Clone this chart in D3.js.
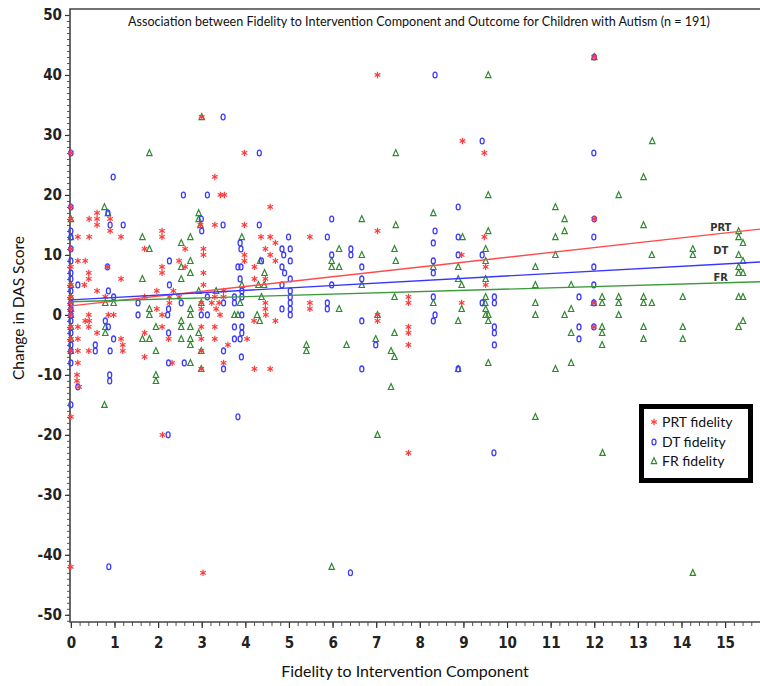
<!DOCTYPE html>
<html>
<head>
<meta charset="utf-8">
<style>
  body { margin: 0; background: #fff; }
  svg { display: block; }
</style>
</head>
<body>
<div id="chart"></div>
<script src="https://d3js.org/d3.v7.min.js"></script>
<script>
  // fidelity (x) / change in DAS score (y)
  const prtPoints = [
    [12,43],[3,33],[0,27],[3.98,27],[3.3,23],[3.43,20],[3.52,20],[7.03,40],[8.98,29],[9.48,27],
    [0,18],[4.57,18],[0.6,17],[0.6,16],[0.6,15],[0.42,16],[0.9,16],[0.9,14],[0,16],[0.16,13],
    [0.42,13],[1.15,13],[2.09,14],[2.09,13],[2.97,15],[3.3,15],[3.98,15],[4.36,13],[4.57,13],
    [7.03,14],[5.48,13],[9.48,13],[12,16],
    [4.69,12],[1.69,11],[2.62,11],[3.04,11],[4.46,11],[3.04,10],[4.57,10],[3.98,10],[0.16,9],
    [0.33,9],[0.84,8],[2.48,9],[3.98,9],[4.69,9],[0,8],[2.09,8],[2.62,8],[4.21,8],[0.41,7],
    [2.09,7],[3.04,7],[0.41,6],[1.15,6],[4.21,6],[4.46,6],[0.31,5],[3.04,5],[0.6,4],[1.97,4],
    [2.35,4],[3.5,4],[0.79,3],[1.69,3],[2.26,3],[2.48,3],[3.3,3],[3.5,3],[2.26,2],[2.99,2],
    [3.23,2],[3.4,2],[4.46,2],[1.97,1],[2.99,1],[3.33,1],[4.46,1],[0.41,0],[0.86,0],[0.98,0],
    [2.09,0],[3.42,0],[4.47,0],[0.33,-1],[0.42,-1],[4.2,-1],[4.69,-1],[0.16,-2],[0.41,-2],
    [2.09,-2],[2.99,-2],[3.3,-2],[0.6,-3],[1.69,-3],[0.16,-4],[1.15,-4],[2.24,-4],[2.99,-4],
    [3.3,-4],[4.04,-4],[1.19,-5],[3.6,-5],[0.16,-6],[0.41,-6],[1.19,-6],[2.99,-6],[1.69,-7],
    [0.16,-8],[2.32,-8],[3.5,-8],[2.99,-9],[4.21,-9],[4.57,-9],[0.14,-10],[0.14,-11],[0.19,-12],
    [0,-17],[0,11],[0,5],[0,3],[0,2],[0,1],[0,0],[0,-2],[0,-4],[0,-6],
    [8.96,10],[9.51,8],[9.51,5],[7.74,3],[5.48,2],[5.48,1],[7.74,2],[8.96,2],[7.03,0],[7.03,-1],
    [7.74,-2],[7.74,-3],[7.74,-5],[11.99,2],[11.99,-2],
    [2.1,-20],[0,-42],[3.03,-43],[7.74,-23]
  ];
  const dtPoints = [
    [12,43],[3.49,33],[0,27],[4.32,27],[0.97,23],[2.58,20],[3.13,20],[8.35,40],[9.43,29],[11.99,27],
    [0,18],[0.85,17],[0.9,15],[1.2,15],[2.99,16],[3,14],[3.49,15],[4.32,15],[4.99,13],[0,14],
    [8.88,18],[5.98,16],[8.35,14],[5.88,13],[8.88,13],[12,16],[11.99,13],
    [3.88,12],[0,11],[3.9,11],[4.84,11],[5.03,11],[4.88,10],[0.84,8],[2.26,9],[4.37,9],[5.03,9],
    [3.83,8],[3.9,8],[4.84,8],[4.9,7],[0,6],[3.88,6],[5.03,6],[0.16,5],[2.26,5],[4.84,5],[0.86,4],
    [3.92,4],[5.03,4],[0.98,3],[3.13,3],[3.75,3],[3.92,3],[5.03,3],[1.54,2],[2.53,2],[3.5,2],
    [3.75,2],[5.03,2],[2.24,1],[4.84,1],[5.03,1],[1.54,0],[2.22,0],[2.99,0],[3.13,0],[3.92,0],
    [5.03,0],[0,-1],[0.79,-1],[0.86,-2],[3.75,-2],[3.92,-2],[2.24,-3],[3.92,-3],[0.98,-4],
    [3.75,-4],[3.88,-4],[0.56,-5],[0.56,-6],[0.9,-6],[3.5,-6],[3.91,-7],[0,-8],[2.24,-8],[2.6,-8],
    [3.5,-9],[0.89,-10],[0.89,-11],[0.16,-12],[0,-15],[3.83,-17],
    [0,13],[0,9],[0,7],[0,4],[0,2],[0,1],[0,0],[0,-3],[0,-5],[0,-6],
    [8.31,12],[6.42,11],[6.42,10],[5.98,10],[6.67,8],[8.31,9],[8.88,10],[9.43,10],[6.67,6],
    [8.31,7],[5.98,5],[8.31,3],[9.71,3],[5.88,2],[5.88,1],[9.43,2],[9.71,2],[8.35,0],[6.67,-1],
    [8.31,-1],[9.71,-2],[9.71,-3],[6.99,-5],[9.71,-5],[6.67,-9],[8.88,-9],
    [11.99,8],[11.99,5],[11.65,3],[11.99,2],[11.65,-2],[11.65,-4],[11.99,-2],
    [2.23,-20],[0.87,-42],[6.41,-43],[9.7,-23]
  ];
  const frPoints = [
    [12,43],[3,33],[1.8,27],[9.57,40],[7.45,27],[13.33,29],[13.13,23],[9.57,20],[12.56,20],
    [0.77,18],[0.85,17],[2.93,17],[2.93,16],[2.97,15],[0,16],[1.64,13],[2.74,13],[3.92,13],[0,13],
    [8.31,17],[6.67,16],[7.45,15],[9.57,14],[8.98,13],
    [11.11,18],[11.32,16],[13.13,15],[11.32,14],[11.11,13],[15.31,14],
    [2.53,12],[1.8,11],[2.74,9],[4.34,9],[2.53,8],[2.74,7],[4.44,7],[1.64,6],[2.53,6],[3.92,5],
    [4.3,5],[4.43,5],[2.93,4],[3.33,4],[4.37,3],[0.79,2],[0.98,2],[2.99,2],[3.88,2],[1.8,1],
    [2.74,1],[1.8,0],[2.74,0],[3.75,0],[3.83,0],[4.27,0],[2.53,-1],[4.33,-1],[0.79,-2],[1.95,-2],
    [2.53,-2],[2.74,-2],[0.79,-3],[2.93,-3],[1.64,-4],[1.8,-4],[2.53,-4],[2.74,-4],[2.74,-5],
    [1.95,-6],[2.99,-6],[2.74,-8],[2.99,-9],[1.95,-10],[1.95,-11],[0.77,-15],
    [0,5],[0,3],[0,2],[0,1],[0,0],[0,-2],[0,-4],[0,-6],
    [6.15,11],[6.67,10],[7.42,11],[9.51,11],[5.98,9],[5.98,8],[6.15,8],[7.45,9],[9.51,9],[8.31,8],
    [8.88,8],[8.88,6],[9.51,6],[6.67,5],[8.96,5],[7.42,3],[9.51,3],[9.5,2],[6.15,1],[8.31,2],
    [8.96,1],[9.51,1],[7.03,0],[8.88,-1],[9.51,0],[9.57,0],[9.57,-1],[7.42,-3],[6.99,-4],
    [5.4,-5],[5.4,-6],[6.32,-5],[7.34,-6],[7.42,-7],[9.57,-8],[8.88,-9],[7.34,-12],
    [15.41,12],[14.26,11],[14.26,10],[11.11,10],[13.32,10],[15.31,10],[15.41,9],[10.65,8],
    [15.31,8],[15.31,7],[15.41,7],[10.65,5],[11.47,5],[12.18,3],[12.18,2],[12.56,3],[12.56,2],
    [13.13,3],[13.13,2],[13.32,2],[14.03,3],[15.31,3],[15.41,3],[11.99,2],[10.65,2],[10.65,0],
    [11.47,1],[11.32,0],[12.56,0],[12.18,-2],[12.18,-3],[12.18,-5],[11.47,-3],[13.13,-2],
    [13.13,-4],[14.03,-2],[14.03,-4],[15.31,-2],[15.41,-1],[11.47,-8],[11.11,-9],[10.65,-17],
    [15.31,13],
    [7.03,-20],[5.98,-42],[12.19,-23],[14.26,-43]
  ];

  // fitted regression lines
  const fitNames = ["PRT", "DT", "FR"];
  const fitIntercepts = [1.5, 2.5, 2.2];
  const fitSlopes = [0.81, 0.4, 0.21];

  const xTicks = d3.range(0, 16);
  const yTicks = d3.range(-50, 51, 10);

  const title = "Association between Fidelity to Intervention Component and Outcome for Children with Autism (n = 191)";
  const legendLabels = ["PRT fidelity", "DT fidelity", "FR fidelity"];

  const colors = ["#ff3c3c", "#3c3cff", "#2f8a2f"];
  const lineColors = ["#ff4b4b", "#3636ff", "#3b9a3b"];

  const width = 760, height = 686;
  const plotLeft = 70, plotRight = 760, plotTop = 9, plotBottom = 622;

  const x = d3.scaleLinear().domain([-0.02, 15.8]).range([plotLeft, plotRight]);
  const y = d3.scaleLinear().domain([-51.2, 51]).range([plotBottom, plotTop]);

  const svg = d3
    .select("#chart")
    .append("svg")
    .attr("width", width)
    .attr("height", height);

  const tickFont = "'Liberation Sans Narrow', 'DejaVu Sans Condensed', 'Arial Narrow', sans-serif";
  const textFont = "Lato, 'Open Sans', sans-serif";

  // minor ticks
  svg.append("g")
    .attr("transform", `translate(${plotLeft},0)`)
    .call(d3.axisLeft(y).tickValues(d3.range(-51, 51, 1)).tickSize(3).tickFormat(""))
    .call((g) => g.select(".domain").remove())
    .call((g) => g.selectAll("line").attr("stroke", "#555"));

  svg.append("g")
    .attr("transform", `translate(0,${plotBottom})`)
    .call(d3.axisBottom(x).tickValues(d3.range(0, 15.81, 0.2)).tickSize(4).tickFormat(""))
    .call((g) => g.select(".domain").remove())
    .call((g) => g.selectAll("line").attr("stroke", "#555"));

  // major ticks + labels (plain hyphen for negatives, like the original)
  svg.append("g")
    .attr("transform", `translate(${plotLeft},0)`)
    .call(d3.axisLeft(y).tickValues(yTicks).tickSize(5).tickPadding(3).tickFormat((d) => String(d)))
    .call((g) => g.select(".domain").remove())
    .call((g) => g.selectAll("line").attr("stroke", "#333").attr("stroke-width", 1.2))
    .call((g) =>
      g.selectAll("text")
        .attr("font-family", tickFont)
        .attr("font-weight", "bold")
        .attr("font-size", 15)
        .attr("fill", "#222")
    );

  svg.append("g")
    .attr("transform", `translate(0,${plotBottom})`)
    .call(d3.axisBottom(x).tickValues(xTicks).tickSize(6).tickPadding(9).tickFormat((d) => String(d)))
    .call((g) => g.select(".domain").remove())
    .call((g) => g.selectAll("line").attr("stroke", "#333").attr("stroke-width", 1.2))
    .call((g) =>
      g.selectAll("text")
        .attr("font-family", tickFont)
        .attr("font-weight", "bold")
        .attr("font-size", 15)
        .attr("fill", "#222")
    );

  // frame (left, top, bottom)
  svg.append("path")
    .attr("d", `M${plotRight},${plotTop}H${plotLeft}V${plotBottom}H${plotRight}`)
    .attr("fill", "none")
    .attr("stroke", "#444")
    .attr("stroke-width", 1.6);

  // markers
  const starPath = "M0,-3.2V3.2M-2.8,-1.6L2.8,1.6M-2.8,1.6L2.8,-1.6";
  const triPath = "M0,-3.3L2.7,2.6H-2.7Z";

  function drawStars(g, pts, color) {
    g.selectAll("path.star")
      .data(pts)
      .join("path")
      .attr("class", "star")
      .attr("transform", (d) => `translate(${x(d[0])},${y(d[1])})`)
      .attr("d", starPath)
      .attr("fill", "none")
      .attr("stroke", color)
      .attr("stroke-width", 1.2);
  }
  function drawRings(g, pts, color) {
    g.selectAll("ellipse")
      .data(pts)
      .join("ellipse")
      .attr("cx", (d) => x(d[0]))
      .attr("cy", (d) => y(d[1]))
      .attr("rx", 2)
      .attr("ry", 2.9)
      .attr("fill", "none")
      .attr("stroke", color)
      .attr("stroke-width", 1.3);
  }
  function drawTriangles(g, pts, color) {
    g.selectAll("path.tri")
      .data(pts)
      .join("path")
      .attr("class", "tri")
      .attr("transform", (d) => `translate(${x(d[0])},${y(d[1])})`)
      .attr("d", triPath)
      .attr("fill", "none")
      .attr("stroke", color)
      .attr("stroke-width", 1.2);
  }

  drawTriangles(svg.append("g"), frPoints, colors[2]);
  drawRings(svg.append("g"), dtPoints, colors[1]);
  drawStars(svg.append("g"), prtPoints, colors[0]);

  // regression lines
  const fitLine = d3.line().x((d) => x(d[0])).y((d) => y(d[1]));
  const labelOffsets = [-2.5, -10, -1.5];
  fitNames.forEach((name, i) => {
    const ends = [0, 15.8].map((v) => [v, fitIntercepts[i] + fitSlopes[i] * v]);
    svg.append("path")
      .attr("d", fitLine(ends))
      .attr("fill", "none")
      .attr("stroke", lineColors[i])
      .attr("stroke-width", 1.4);
    const lx = 14.9;
    svg.append("text")
      .attr("x", x(lx))
      .attr("y", y(fitIntercepts[i] + fitSlopes[i] * lx) + labelOffsets[i])
      .attr("text-anchor", "middle")
      .attr("font-family", tickFont)
      .attr("font-weight", "bold")
      .attr("font-size", 11)
      .attr("fill", "#333")
      .text(name);
  });

  // title and axis labels
  svg.append("text")
    .attr("x", 419)
    .attr("y", 26)
    .attr("text-anchor", "middle")
    .attr("font-family", textFont)
    .attr("font-size", 12.6)
    .attr("fill", "#111")
    .text(title);

  svg.append("text")
    .attr("transform", "translate(24,308) rotate(-90)")
    .attr("text-anchor", "middle")
    .attr("font-family", textFont)
    .attr("font-size", 15.5)
    .attr("fill", "#111")
    .text("Change in DAS Score");

  svg.append("text")
    .attr("x", 405)
    .attr("y", 677)
    .attr("text-anchor", "middle")
    .attr("font-family", textFont)
    .attr("font-size", 16)
    .attr("fill", "#111")
    .text("Fidelity to Intervention Component");

  // legend
  const legend = svg.append("g");
  legend.append("rect")
    .attr("x", 641.5)
    .attr("y", 406.5)
    .attr("width", 109)
    .attr("height", 74)
    .attr("fill", "#fff")
    .attr("stroke", "#000")
    .attr("stroke-width", 5);

  const legendY = [422, 442, 461];
  const markerFns = [drawStars, drawRings, drawTriangles];
  legendLabels.forEach((label, i) => {
    markerFns[i](legend.append("g"), [[x.invert(654), y.invert(legendY[i])]], colors[i]);
    legend.append("text")
      .attr("x", 662)
      .attr("y", legendY[i] + 5)
      .attr("font-family", textFont)
      .attr("font-size", 14)
      .attr("fill", "#111")
      .text(label);
  });
</script>
</body>
</html>
